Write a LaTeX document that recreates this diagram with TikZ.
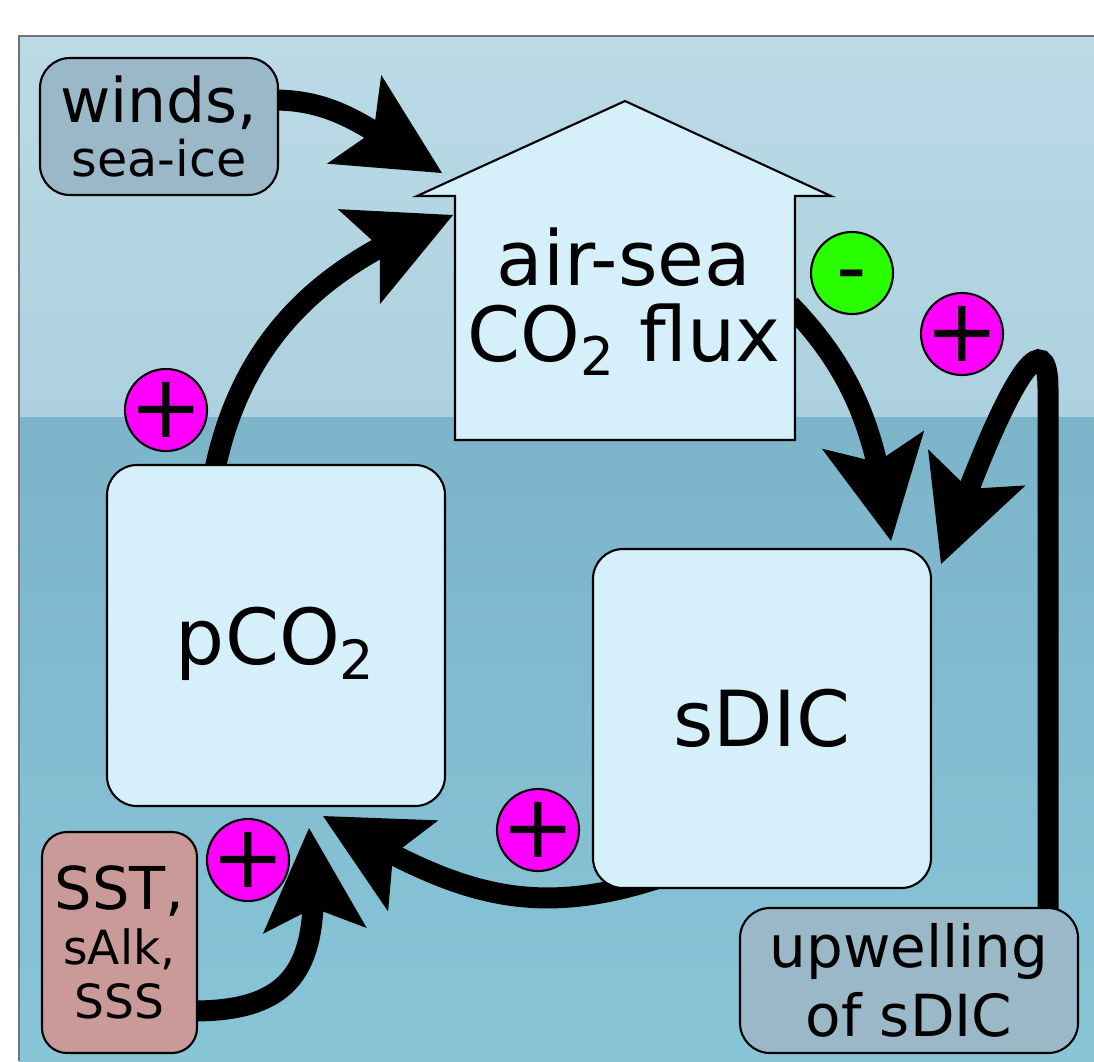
\documentclass[tikz,border=0pt]{standalone}
\usepackage{fontspec}
\setmainfont{DejaVu Sans}
\usetikzlibrary{arrows.meta,bending,positioning}
\definecolor{skytop}{HTML}{BADAE6}
\definecolor{skybot}{HTML}{ADD1DF}
\definecolor{seatop}{HTML}{7CB4CA}
\definecolor{seabot}{HTML}{88C5D7}
\definecolor{stockfill}{HTML}{D5F0FB}
\definecolor{drivfill}{HTML}{9BB8C8}
\definecolor{sstfill}{HTML}{C99A98}
\definecolor{posfill}{HTML}{FF00FF}
\definecolor{negfill}{HTML}{2AFF00}
\pgfdeclarelayer{sky}
\pgfdeclarelayer{flow}
\pgfsetlayers{sky,flow,main}

\begin{document}
\begin{tikzpicture}[
  stockbox/.style={draw=black, line width=0.6pt, fill=stockfill, rounded corners=0.3cm, minimum width=3.38cm, inner sep=2pt, align=center, font=\fontsize{22}{22}\selectfont},
  drivbox/.style={draw=black, line width=0.6pt, fill=drivfill, rounded corners=0.3cm, inner sep=2pt, align=center},
  signnode/.style={circle, draw=black, line width=0.6pt, minimum size=0.82cm, inner sep=-4pt},
  possign/.style={signnode, fill=posfill, font=\fontsize{25}{25}\selectfont},
  negsign/.style={signnode, fill=negfill, font=\fontsize{24}{24}\selectfont, text height=13.4pt, text depth=0pt},
  fluxarrow/.style={line width=0.21cm, -{Stealth[length=1.03cm, width=1.04cm, inset=0.23cm, line width=0pt]}},
]
\useasboundingbox (0,0) rectangle (10.94,-10.61);

% ===================== Sky and sea =====================
\begin{pgfonlayer}{sky}
  \shade[top color=skytop, bottom color=skybot] (0.19,-0.36) rectangle (10.94,-4.17);
  \shade[top color=seatop, bottom color=seabot] (0.19,-4.17) rectangle (10.94,-10.61);
  \draw[black!55, line width=0.5pt] (0.19,-10.61) -- (0.19,-0.36) -- (10.94,-0.36);
\end{pgfonlayer}

% ===================== Drivers =====================
\node[drivbox, minimum width=2.38cm, minimum height=1.37cm, font=\fontsize{14}{15.6}\selectfont] (winds) at (1.59,-1.265) {{\fontsize{17.5}{15.6}\selectfont winds,}\\sea-ice};
\node[drivbox, fill=sstfill, rounded corners=0.25cm, minimum width=1.55cm, minimum height=2.21cm, font=\fontsize{13.4}{15.5}\selectfont] (sst) at (1.195,-9.425) {{\fontsize{16.8}{15.5}\selectfont SST,}\\sAlk,\\SSS};
\node[drivbox, minimum width=3.38cm, minimum height=1.45cm, font=\fontsize{16.5}{19.6}\selectfont] (upw) at (9.09,-9.805) {upwelling\\of sDIC};

% ===================== Air-sea flux (house) =====================
\node[minimum width=3.4cm, minimum height=2.44cm, inner sep=0pt, outer sep=0pt] (house) at (6.25,-3.18) {};
\draw[line width=0.6pt, fill=stockfill] (house.south west) -- (house.north west) -- ++(-0.38,0)
  -- ([yshift=0.95cm]house.north) -- ([xshift=0.36cm]house.north east) -- (house.north east)
  -- (house.south east) -- cycle;
\node[align=center, font=\fontsize{21.6}{21.6}\selectfont] (fluxlbl) at (6.24,-3.015) {air-sea\\CO\textsubscript{2} flux};

% ===================== Carbon stocks =====================
\node[stockbox, minimum height=3.41cm, text depth=0pt] (pco2) at (2.76,-6.355) {pCO\textsubscript{2}};
\node[stockbox, minimum height=3.39cm] (sdic) at (7.62,-7.185) {sDIC};

% ===================== Feedback signs =====================
\node[possign] (posA) at (1.66,-4.10) {+};
\node[negsign] (negB) at (8.52,-2.73) {-};
\node[possign] (posC) at (9.62,-3.34) {+};
\node[possign] (posD) at (2.48,-8.60) {+};
\node[possign] (posE) at (5.38,-8.30) {+};

% ===================== Arrows =====================
\begin{pgfonlayer}{flow}
  \draw[fluxarrow] ([shift={(-0.05,0.265)}]winds.east) to[out=0, in=152] ([shift={(-0.13,0.23)}]house.north west);
  \draw[fluxarrow] ([shift={(-0.61,-0.05)}]pco2.north) to[out=78, in=200] ([shift={(-0.02,-0.19)}]house.north west);
  \draw[fluxarrow] ([shift={(-0.05,0.13)}]house.east) to[out=-46, in=98] ([shift={(-0.41,0.07)}]sdic.north east);
  \draw[fluxarrow] ([shift={(1.39,-0.05)}]upw.north) -- ++(0,5.23)
    .. controls +(0,0.55) and +(0.8,2.25) .. ([shift={(0.09,-0.16)}]sdic.north east);
  \draw[fluxarrow] ([shift={(-0.05,-0.685)}]sst.east) .. controls +(1.1,0) and +(0.15,-1.3) .. ([shift={(-1.37,-0.21)}]pco2.south east);
  % sea-coloured rim round the head from sDIC
  \draw[line width=0.21cm, seabot!70!seatop, shorten >=-0.09cm, -{Stealth[length=1.13cm, width=1.16cm, inset=0.25cm, line width=0pt]}]
    ([shift={(0.87,0.18)}]sdic.south west) .. controls +(-1.5,-0.55) and +(1.3,-0.75) .. ([shift={(-1.23,-0.09)}]pco2.south east);
  \draw[fluxarrow] ([shift={(0.87,0.18)}]sdic.south west) .. controls +(-1.5,-0.55) and +(1.3,-0.75) .. ([shift={(-1.23,-0.09)}]pco2.south east);
\end{pgfonlayer}

\end{tikzpicture}
\end{document}
